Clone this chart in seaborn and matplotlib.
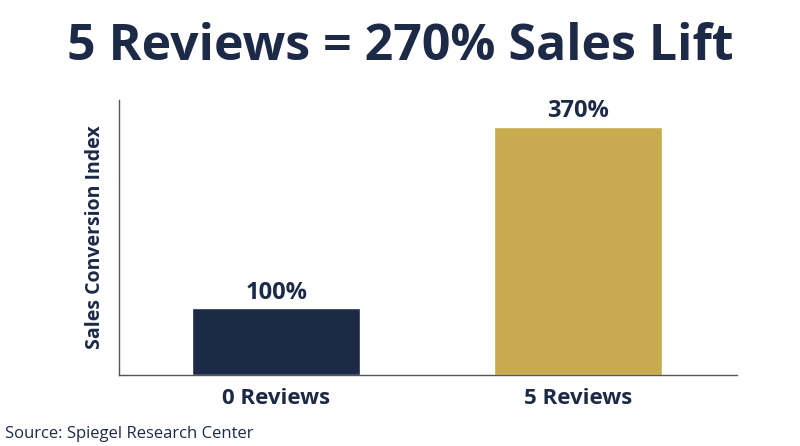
import matplotlib
matplotlib.use("Agg")
import matplotlib.pyplot as plt
import seaborn as sns
import pandas as pd

categories = ["0 Reviews", "5 Reviews"]
values = [100, 370]
labels = ["100%", "370%"]
colors = ["#1c2a47", "#c8aa4f"]

sns.set_style("white")
plt.rcParams["font.family"] = ["Open Sans", "DejaVu Sans"]

df = pd.DataFrame({"cat": categories, "val": values})
fig = plt.figure(figsize=(8, 4.46), dpi=100)
ax = fig.add_axes([0.149, 0.159, 0.772, 0.617])
sns.barplot(data=df, x="cat", y="val", hue="cat", palette=colors, width=0.556,
            legend=False, ax=ax, saturation=1)
ax.set_xlim(-0.52, 1.526)
ax.set_ylim(0, 410)
for i, (v, t) in enumerate(zip(values, labels)):
    ax.text(i, v + 5, t, ha="center", va="bottom", fontsize=17, fontweight="bold", color="#1c2a47")
ax.set_yticks([])
ax.set_xlabel("")
ax.set_ylabel("Sales Conversion Index", fontsize=14, fontweight="bold", color="#1c2a47", labelpad=10)
ax.tick_params(axis="x", length=0, labelsize=16, labelcolor="#1c2a47", pad=9)
for lab in ax.get_xticklabels():
    lab.set_fontweight("bold")
sns.despine(ax=ax, top=True, right=True)
for s in ["left", "bottom"]:
    ax.spines[s].set_color("#555555")
    ax.spines[s].set_linewidth(1)
fig.text(0.5, 0.895, "5 Reviews = 270% Sales Lift", ha="center", va="center",
         fontsize=36, fontweight="bold", color="#1c2a47")
fig.text(0.006, 0.01, "Source: Spiegel Research Center", ha="left", va="bottom",
         fontsize=12, color="#1c2a47")
fig.savefig("out.png", dpi=100)
